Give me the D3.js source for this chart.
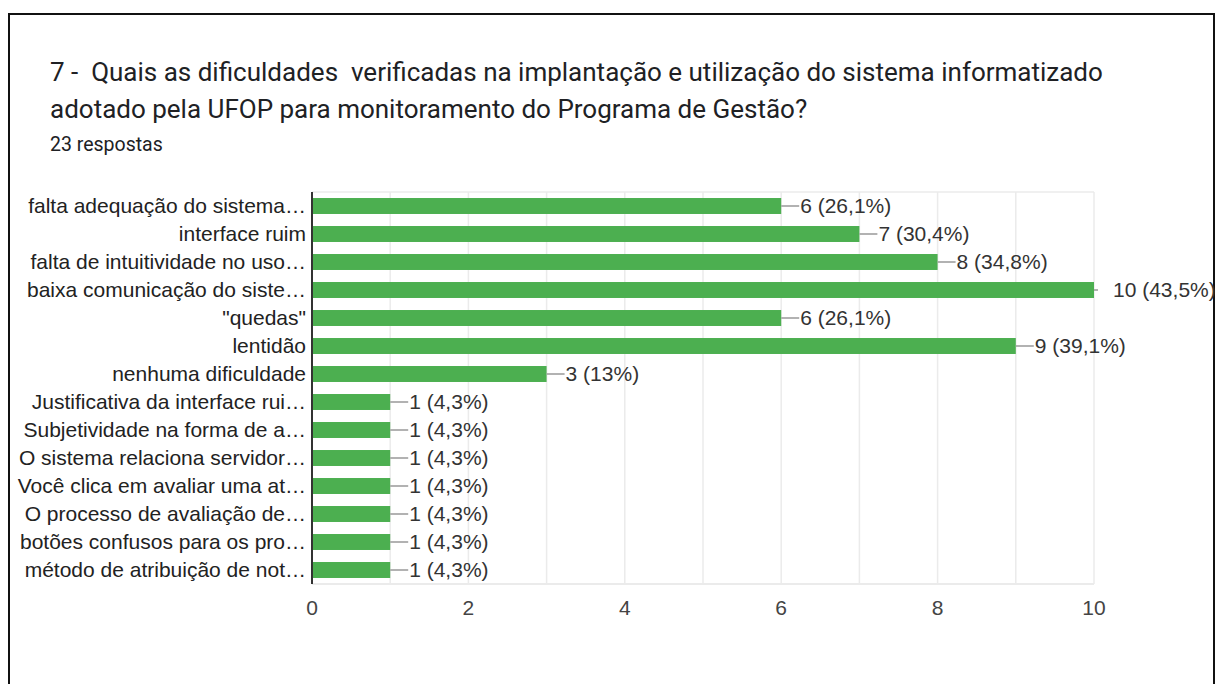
<html>
<head>
  <title>Dificuldades do sistema</title>
  <meta charset="utf-8" />
  <style type="text/css">
    body { margin: 0; background: white; }
    svg { display: block; }
  </style>
  <script src="https://d3js.org/d3.v7.min.js" charset="utf-8"></script>
</head>
<body>
  <svg id="chart" width="1217" height="684"></svg>
<script>
  var categories = [
    "falta adequação do sistema…",
    "interface ruim",
    "falta de intuitividade no uso…",
    "baixa comunicação do siste…",
    "\"quedas\"",
    "lentidão",
    "nenhuma dificuldade",
    "Justificativa da interface rui…",
    "Subjetividade na forma de a…",
    "O sistema relaciona servidor…",
    "Você clica em avaliar uma at…",
    "O processo de avaliação de…",
    "botões confusos para os pro…",
    "método de atribuição de not…"
  ];
  var counts = [6, 7, 8, 10, 6, 9, 3, 1, 1, 1, 1, 1, 1, 1];
  var percents = ["26,1%", "30,4%", "34,8%", "43,5%", "26,1%", "39,1%", "13%",
    "4,3%", "4,3%", "4,3%", "4,3%", "4,3%", "4,3%", "4,3%"];
  var xTicks = [0, 2, 4, 6, 8, 10];

  var svg = d3.select("#chart");

  // frame round the card
  svg.append("rect")
    .attr("x", 9).attr("y", 14)
    .attr("width", 1205).attr("height", 700)
    .style("fill", "none").style("stroke", "#111").style("stroke-width", 2);

  var titleFont = "Roboto, 'Noto Sans', sans-serif";
  svg.append("text").attr("x", 50).attr("y", 81)
    .style("font-family", titleFont).style("font-size", "26px").style("fill", "#202124")
    .style("white-space", "pre")
    .text("7 -  Quais as dificuldades  verificadas na implantação e utilização do sistema informatizado");
  svg.append("text").attr("x", 50).attr("y", 118)
    .style("font-family", titleFont).style("font-size", "26px").style("fill", "#202124")
    .text("adotado pela UFOP para monitoramento do Programa de Gestão?");
  svg.append("text").attr("x", 50).attr("y", 151)
    .style("font-family", titleFont).style("font-size", "19.5px").style("fill", "#202124")
    .text("23 respostas");

  var plotLeft = 312, plotRight = 1094, plotTop = 192, plotBottom = 584;

  var x = d3.scaleLinear().domain([0, 10]).range([plotLeft, plotRight]);
  var y = d3.scaleBand().domain(categories).range([plotTop, plotBottom]).paddingInner(0.43).paddingOuter(0.215);

  var font = "Arial, 'Liberation Sans', sans-serif";

  // grid lines at every unit
  svg.append("g").selectAll("line")
    .data(d3.range(1, 11))
    .enter().append("line")
    .attr("x1", function (d) { return x(d) }).attr("x2", function (d) { return x(d) })
    .attr("y1", plotTop).attr("y2", plotBottom)
    .style("stroke", "#ebebeb").style("stroke-width", 1.5);
  svg.append("line")
    .attr("x1", plotLeft).attr("x2", plotRight).attr("y1", plotTop).attr("y2", plotTop)
    .style("stroke", "#ebebeb").style("stroke-width", 1.5);
  svg.append("line")
    .attr("x1", plotLeft).attr("x2", plotRight).attr("y1", plotBottom).attr("y2", plotBottom)
    .style("stroke", "#ebebeb").style("stroke-width", 2);

  // bars
  svg.append("g").selectAll("rect")
    .data(counts)
    .enter().append("rect")
    .attr("x", x(0))
    .attr("y", function (d, i) { return y(categories[i]) })
    .attr("width", function (d) { return x(d) - x(0) })
    .attr("height", y.bandwidth())
    .style("fill", "#4caf50");

  // connectors and value labels
  svg.append("g").selectAll("line")
    .data(counts)
    .enter().append("line")
    .attr("x1", function (d) { return x(d) })
    .attr("x2", function (d) { return Math.min(x(d) + 18, plotRight + 4) })
    .attr("y1", function (d, i) { return y(categories[i]) + y.bandwidth() / 2 })
    .attr("y2", function (d, i) { return y(categories[i]) + y.bandwidth() / 2 })
    .style("stroke", "#999").style("stroke-width", 1.5);

  svg.append("g").selectAll("text")
    .data(counts)
    .enter().append("text")
    .attr("x", function (d) { return x(d) + 19 })
    .attr("y", function (d, i) { return y(categories[i]) + y.bandwidth() / 2 })
    .attr("dy", "0.35em")
    .style("font-family", font).style("font-size", "21px").style("fill", "#333")
    .text(function (d, i) { return d + " (" + percents[i] + ")" });

  // category labels
  svg.append("g").selectAll("text")
    .data(categories)
    .enter().append("text")
    .attr("x", plotLeft - 6)
    .attr("y", function (d) { return y(d) + y.bandwidth() / 2 })
    .attr("dy", "0.35em")
    .style("text-anchor", "end")
    .style("font-family", font).style("font-size", "21px").style("fill", "#222")
    .text(function (d) { return d });

  // axis line
  svg.append("line")
    .attr("x1", plotLeft).attr("x2", plotLeft).attr("y1", plotTop).attr("y2", plotBottom)
    .style("stroke", "#333").style("stroke-width", 2);

  // x tick labels
  svg.append("g").selectAll("text")
    .data(xTicks)
    .enter().append("text")
    .attr("x", function (d) { return x(d) })
    .attr("y", 615)
    .style("text-anchor", "middle")
    .style("font-family", font).style("font-size", "21px").style("fill", "#444")
    .text(function (d) { return d });
</script>
</body>
</html>
